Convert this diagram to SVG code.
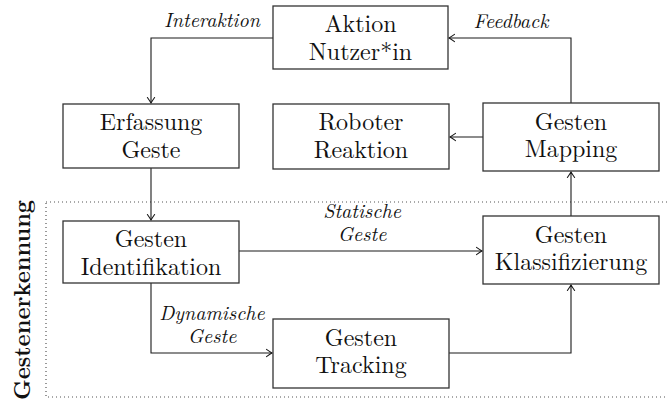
<svg xmlns="http://www.w3.org/2000/svg" width="667" height="406" viewBox="0 0 667 406">
  <style>
    text { font-family: 'Latin Modern Roman', 'Times New Roman', serif; fill: #111111; text-anchor: middle; }
    .box { fill: #ffffff; stroke: #333333; stroke-width: 1.3; }
    .lbl { font-size: 24px; }
    .edge { fill: none; stroke: #1a1a1a; stroke-width: 1.1; marker-end: url(#tip); }
    .note { font-style: italic; font-size: 20px; }
    .group { fill: none; stroke: #555555; stroke-width: 1.2; stroke-dasharray: 1 3; }
    .title { font-weight: bold; font-size: 23px; }
  </style>
  <defs>
    <marker id="tip" viewBox="-7 -5 9 10" refX="0" refY="0" markerWidth="9" markerHeight="10" markerUnits="userSpaceOnUse" orient="auto">
      <path d="M -5.5 -3.6 Q -1.5 -0.8 0 0 Q -1.5 0.8 -5.5 3.6" fill="none" stroke="#1a1a1a" stroke-width="1.1" stroke-linecap="round"/>
    </marker>
  </defs>

  <!-- recognition stage frame -->
  <g id="gestenerkennung">
    <rect class="group" x="46" y="202" width="640" height="195"/>
    <text class="title" transform="translate(30 300) rotate(-90)">Gestenerkennung</text>
  </g>

  <!-- connectors -->
  <g id="connectors">
    <path class="edge" d="M 273 38 H 151 V 103"/>
    <path class="edge" d="M 151 168 V 220"/>
    <path class="edge" d="M 239 251 H 482"/>
    <path class="edge" d="M 151 283 V 353 H 272"/>
    <path class="edge" d="M 449 353 H 571 V 285"/>
    <path class="edge" d="M 571 216 V 172"/>
    <path class="edge" d="M 483 137 H 450"/>
    <path class="edge" d="M 571 103 V 38 H 449"/>

    <text class="note" x="212" y="27">Interaktion</text>
    <text class="note" x="511" y="28">Feedback</text>
    <text class="note" x="362" y="218">Statische</text>
    <text class="note" x="362" y="241">Geste</text>
    <text class="note" x="212" y="320">Dynamische</text>
    <text class="note" x="212" y="343">Geste</text>
  </g>

  <g id="aktion-nutzerin">
    <rect class="box" x="273" y="6" width="175" height="63"/>
    <text class="lbl" x="360.5" y="32">Aktion</text>
    <text class="lbl" x="360.5" y="59.5">Nutzer*in</text>
  </g>

  <g id="erfassung-geste">
    <rect class="box" x="63" y="104" width="176" height="64"/>
    <text class="lbl" x="151" y="130">Erfassung</text>
    <text class="lbl" x="151" y="158">Geste</text>
  </g>

  <g id="roboter-reaktion">
    <rect class="box" x="273" y="104" width="176" height="65"/>
    <text class="lbl" x="361" y="130">Roboter</text>
    <text class="lbl" x="361" y="158">Reaktion</text>
  </g>

  <g id="gesten-mapping">
    <rect class="box" x="483" y="103" width="176" height="68"/>
    <text class="lbl" x="571" y="130">Gesten</text>
    <text class="lbl" x="571" y="157">Mapping</text>
  </g>

  <g id="gesten-identifikation">
    <rect class="box" x="63" y="221" width="176" height="62"/>
    <text class="lbl" x="151" y="247">Gesten</text>
    <text class="lbl" x="151" y="275">Identifikation</text>
  </g>

  <g id="gesten-klassifizierung">
    <rect class="box" x="483" y="216" width="176" height="68"/>
    <text class="lbl" x="571" y="243">Gesten</text>
    <text class="lbl" x="571" y="270">Klassifizierung</text>
  </g>

  <g id="gesten-tracking">
    <rect class="box" x="273" y="319" width="176" height="69"/>
    <text class="lbl" x="361" y="346">Gesten</text>
    <text class="lbl" x="361" y="373">Tracking</text>
  </g>
</svg>
